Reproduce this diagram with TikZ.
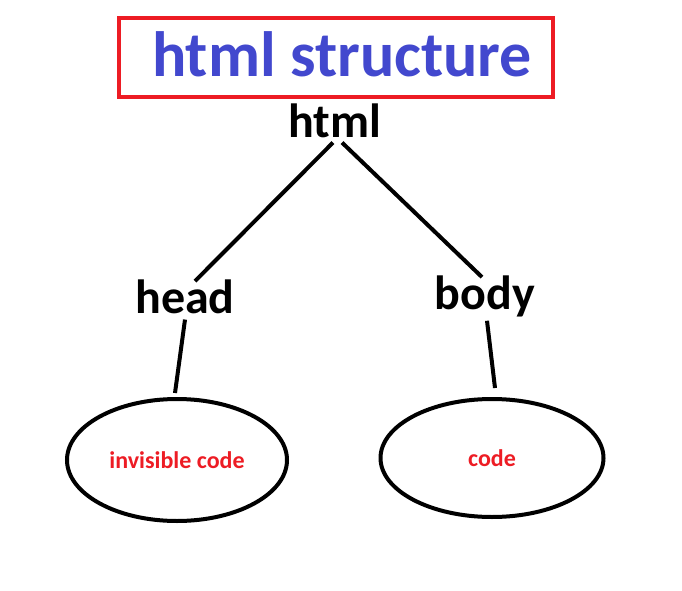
\documentclass[tikz,border=0pt]{standalone}
\usepackage{fontspec}
\setmainfont{Carlito}
\usetikzlibrary{shapes.geometric}
\definecolor{titleblue}{RGB}{66,72,206}
\definecolor{boxred}{RGB}{237,28,36}
\tikzset{
  tag/.style={inner sep=0pt, anchor=base, font=\fontsize{48}{52}\selectfont\bfseries},
  leaf/.style={draw, ellipse, line width=4pt, inner sep=0pt, text=boxred,
    font=\fontsize{24}{26}\selectfont\bfseries},
  edge/.style={line width=4pt}
}
\begin{document}
\begin{tikzpicture}[x=1pt,y=-1pt] %arbol de html
        \useasboundingbox (0,0) rectangle (682,591);

        \draw[boxred, line width=4pt] (119,18) rectangle (553,97);
        \node[inner sep=0pt, anchor=base, text=titleblue,
          font=\fontsize{64}{66}\selectfont\bfseries] (title) at (342,77) {html structure};

        \node[tag] (html) at (335,138) {html};
        \node[tag] (head) at (185,313) {head};
        \node[tag] (body) at (485,309) {body};

        \node[leaf, minimum width=220pt, minimum height=122pt] (inv) at (177,460) {invisible code};
        \node[leaf, minimum width=223pt, minimum height=118pt] (code) at (492,458) {code};

        \draw[edge] ([xshift=-2pt,yshift=-4pt]html.south) -- ([xshift=10pt,yshift=-2pt]head.north);
        \draw[edge] ([xshift=7pt,yshift=-4pt]html.south) -- ([xshift=-3pt,yshift=-2pt]body.north);
        \draw[edge] ([yshift=-6pt]head.south) -- ([xshift=-2pt,yshift=4pt]inv.north);
        \draw[edge] ([xshift=2pt,yshift=-4pt]body.south) -- ([xshift=3pt,yshift=9pt]code.north);
    \end{tikzpicture}
\end{document}
